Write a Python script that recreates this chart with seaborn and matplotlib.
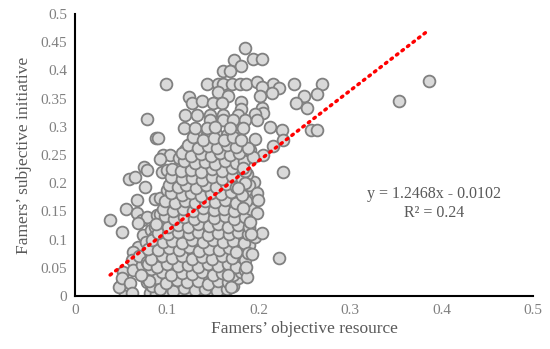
"""Farmers' objective resource vs subjective initiative scatter with linear trend."""
import matplotlib
matplotlib.use("Agg")
import matplotlib.pyplot as plt
import numpy as np
import pandas as pd
import seaborn as sns

# sparse points at the top of the cloud
top_pts = [
    (0.099, 0.376), (0.185, 0.440), (0.194, 0.420), (0.204, 0.420), (0.173, 0.418),
    (0.181, 0.408), (0.161, 0.399), (0.169, 0.399), (0.144, 0.376), (0.156, 0.376),
    (0.161, 0.376), (0.171, 0.376), (0.180, 0.376), (0.187, 0.376), (0.199, 0.380),
    (0.216, 0.375), (0.222, 0.369), (0.239, 0.376), (0.270, 0.376), (0.204, 0.370),
    (0.215, 0.360), (0.156, 0.362), (0.167, 0.355), (0.250, 0.355), (0.264, 0.358),
    (0.124, 0.353), (0.128, 0.342), (0.138, 0.346), (0.150, 0.342), (0.160, 0.342),
    (0.181, 0.344), (0.181, 0.332), (0.204, 0.333), (0.205, 0.324), (0.241, 0.342),
    (0.253, 0.333), (0.202, 0.355), (0.120, 0.321), (0.133, 0.321), (0.147, 0.321),
    (0.161, 0.321), (0.178, 0.321), (0.196, 0.322), (0.078, 0.314), (0.147, 0.312),
    (0.161, 0.312), (0.172, 0.312), (0.185, 0.312), (0.198, 0.312), (0.119, 0.298),
    (0.131, 0.298), (0.144, 0.298), (0.153, 0.300), (0.169, 0.298), (0.183, 0.298),
    (0.213, 0.300), (0.226, 0.294), (0.258, 0.294), (0.264, 0.294),
]

# right-hand edge and outliers
right_pts = [
    (0.386, 0.381), (0.354, 0.346), (0.196, 0.278), (0.227, 0.277), (0.216, 0.265),
    (0.191, 0.259), (0.205, 0.250), (0.194, 0.246), (0.227, 0.220), (0.183, 0.227),
    (0.222, 0.067), (0.204, 0.112), (0.199, 0.183), (0.200, 0.170), (0.198, 0.147),
    (0.192, 0.110), (0.189, 0.076), (0.193, 0.074), (0.185, 0.046), (0.188, 0.034),
    (0.170, 0.016), (0.183, 0.156), (0.191, 0.131), (0.185, 0.200), (0.178, 0.191),
    (0.189, 0.262), (0.181, 0.277), (0.176, 0.078), (0.167, 0.037), (0.187, 0.052),
]

# left-hand edge
left_pts = [
    (0.038, 0.135), (0.051, 0.113), (0.055, 0.155), (0.059, 0.208), (0.065, 0.211),
    (0.067, 0.171), (0.076, 0.194), (0.075, 0.229), (0.078, 0.224), (0.088, 0.280),
    (0.090, 0.280), (0.096, 0.250), (0.103, 0.250), (0.092, 0.243), (0.095, 0.220),
    (0.067, 0.147), (0.073, 0.135), (0.078, 0.140), (0.069, 0.130), (0.074, 0.108),
    (0.069, 0.087), (0.063, 0.078), (0.062, 0.064), (0.052, 0.043), (0.051, 0.023),
    (0.054, 0.005), (0.058, 0.020), (0.063, 0.046), (0.073, 0.055), (0.078, 0.073),
    (0.078, 0.025), (0.082, 0.005), (0.080, 0.090), (0.083, 0.117), (0.048, 0.016),
    (0.051, 0.032), (0.060, 0.023), (0.062, 0.005), (0.087, 0.172), (0.092, 0.174),
    (0.089, 0.144), (0.087, 0.122), (0.100, 0.224), (0.077, 0.095), (0.070, 0.070),
]

# dense core, read row by row (y level -> x positions)
core_rows = {
    0.004: [0.088, 0.100, 0.112, 0.125, 0.136, 0.148, 0.158],
    0.018: [0.084, 0.094, 0.106, 0.117, 0.128, 0.139, 0.150, 0.161, 0.172],
    0.032: [0.078, 0.089, 0.100, 0.111, 0.122, 0.133, 0.144, 0.155, 0.166, 0.178],
    0.047: [0.083, 0.094, 0.106, 0.117, 0.128, 0.139, 0.150, 0.161, 0.172, 0.182],
    0.061: [0.078, 0.089, 0.100, 0.111, 0.122, 0.133, 0.144, 0.155, 0.166, 0.180],
    0.076: [0.085, 0.096, 0.107, 0.118, 0.129, 0.140, 0.151, 0.162, 0.174, 0.184],
    0.090: [0.090, 0.101, 0.112, 0.123, 0.134, 0.145, 0.156, 0.167, 0.178, 0.190],
    0.104: [0.086, 0.096, 0.107, 0.118, 0.129, 0.140, 0.151, 0.162, 0.173, 0.184, 0.196],
    0.118: [0.092, 0.102, 0.113, 0.124, 0.135, 0.146, 0.157, 0.168, 0.179, 0.190],
    0.132: [0.096, 0.107, 0.118, 0.129, 0.140, 0.151, 0.162, 0.173, 0.184],
    0.146: [0.093, 0.102, 0.113, 0.124, 0.135, 0.146, 0.157, 0.168, 0.179, 0.190],
    0.160: [0.098, 0.108, 0.119, 0.130, 0.141, 0.152, 0.163, 0.174, 0.186],
    0.174: [0.103, 0.114, 0.125, 0.136, 0.147, 0.158, 0.169, 0.180, 0.192],
    0.188: [0.100, 0.109, 0.120, 0.131, 0.142, 0.153, 0.164, 0.175, 0.187],
    0.202: [0.106, 0.115, 0.126, 0.137, 0.148, 0.159, 0.170, 0.181, 0.195],
    0.216: [0.110, 0.121, 0.132, 0.143, 0.154, 0.165, 0.176, 0.188],
    0.230: [0.114, 0.126, 0.137, 0.148, 0.159, 0.170, 0.181],
    0.244: [0.113, 0.122, 0.133, 0.144, 0.155, 0.166, 0.177, 0.186],
    0.258: [0.120, 0.129, 0.140, 0.151, 0.162, 0.173, 0.182],
    0.272: [0.126, 0.136, 0.147, 0.158, 0.169, 0.180],
    0.285: [0.133, 0.144, 0.155, 0.166, 0.176],
}

# points filling the gaps between the core rows
fill_pts = [
    (0.093, 0.012), (0.107, 0.009), (0.119, 0.014), (0.131, 0.010), (0.142, 0.013),
    (0.155, 0.008), (0.166, 0.012), (0.081, 0.027), (0.099, 0.023), (0.111, 0.028),
    (0.122, 0.024), (0.134, 0.026), (0.145, 0.022), (0.156, 0.027), (0.167, 0.025),
    (0.072, 0.038), (0.095, 0.042), (0.105, 0.037), (0.117, 0.041), (0.128, 0.039),
    (0.138, 0.043), (0.150, 0.038), (0.160, 0.041), (0.172, 0.037), (0.181, 0.042),
    (0.079, 0.056), (0.089, 0.052), (0.100, 0.057), (0.112, 0.053), (0.123, 0.055),
    (0.134, 0.051), (0.145, 0.056), (0.156, 0.053), (0.167, 0.057), (0.176, 0.052),
    (0.083, 0.066), (0.095, 0.070), (0.106, 0.067), (0.116, 0.071), (0.127, 0.066),
    (0.138, 0.069), (0.149, 0.065), (0.160, 0.070), (0.171, 0.067), (0.185, 0.064),
    (0.079, 0.084), (0.090, 0.081), (0.102, 0.085), (0.113, 0.082), (0.124, 0.086),
    (0.135, 0.080), (0.146, 0.084), (0.157, 0.082), (0.168, 0.085), (0.181, 0.083),
    (0.084, 0.099), (0.096, 0.095), (0.106, 0.098), (0.117, 0.094), (0.128, 0.099),
    (0.139, 0.096), (0.150, 0.100), (0.161, 0.095), (0.172, 0.098), (0.184, 0.094),
    (0.090, 0.112), (0.101, 0.109), (0.112, 0.113), (0.124, 0.110), (0.134, 0.114),
    (0.145, 0.108), (0.156, 0.112), (0.168, 0.109), (0.178, 0.113), (0.189, 0.110),
    (0.088, 0.127), (0.101, 0.123), (0.112, 0.126), (0.123, 0.122), (0.134, 0.127),
    (0.146, 0.124), (0.156, 0.128), (0.167, 0.123), (0.178, 0.126), (0.190, 0.122),
    (0.098, 0.141), (0.108, 0.137), (0.119, 0.140), (0.130, 0.136), (0.140, 0.141),
    (0.151, 0.138), (0.163, 0.142), (0.173, 0.137), (0.185, 0.140), (0.096, 0.155),
    (0.107, 0.151), (0.118, 0.154), (0.129, 0.150), (0.140, 0.156), (0.151, 0.152),
    (0.162, 0.155), (0.173, 0.151), (0.192, 0.154), (0.098, 0.168), (0.109, 0.165),
    (0.120, 0.169), (0.131, 0.164), (0.142, 0.168), (0.153, 0.166), (0.164, 0.170),
    (0.175, 0.165), (0.186, 0.168), (0.105, 0.183), (0.116, 0.179), (0.126, 0.182),
    (0.137, 0.178), (0.148, 0.183), (0.159, 0.180), (0.170, 0.184), (0.182, 0.179),
    (0.102, 0.197), (0.112, 0.193), (0.121, 0.196), (0.132, 0.192), (0.143, 0.197),
    (0.154, 0.194), (0.165, 0.198), (0.176, 0.193), (0.190, 0.196), (0.104, 0.211),
    (0.116, 0.207), (0.127, 0.210), (0.138, 0.206), (0.149, 0.211), (0.160, 0.208),
    (0.171, 0.212), (0.182, 0.207), (0.106, 0.225), (0.115, 0.221), (0.126, 0.224),
    (0.137, 0.220), (0.149, 0.225), (0.160, 0.222), (0.171, 0.226), (0.185, 0.221),
    (0.119, 0.239), (0.131, 0.235), (0.142, 0.238), (0.153, 0.234), (0.164, 0.239),
    (0.175, 0.236), (0.184, 0.240), (0.116, 0.253), (0.126, 0.249), (0.137, 0.252),
    (0.148, 0.248), (0.158, 0.253), (0.169, 0.250), (0.179, 0.254), (0.123, 0.267),
    (0.134, 0.263), (0.145, 0.266), (0.155, 0.262), (0.166, 0.267), (0.176, 0.264),
    (0.129, 0.281), (0.140, 0.277), (0.151, 0.280), (0.162, 0.276), (0.172, 0.281),
]

# trend line as printed on the chart
slope, intercept = 1.2468, -0.0102
eq_text = "y = 1.2468x - 0.0102"
r2_text = "R² = 0.24"

x_ticks = [0, 0.1, 0.2, 0.3, 0.4, 0.5]
x_labels = ["0", "0.1", "0.2", "0.3", "0.4", "0.5"]
y_ticks = [0, 0.05, 0.1, 0.15, 0.2, 0.25, 0.3, 0.35, 0.4, 0.45, 0.5]
y_labels = ["0", "0.05", "0.1", "0.15", "0.2", "0.25", "0.3", "0.35", "0.4", "0.45", "0.5"]

core_pts = [(x, y) for y, xs in core_rows.items() for x in xs]
pts = left_pts + core_pts + fill_pts + top_pts + right_pts
df = pd.DataFrame(pts, columns=["resource", "initiative"])

sns.set_style("white")
plt.rcParams["font.family"] = ["Liberation Serif", "DejaVu Serif"]

fig = plt.figure(figsize=(5.5, 3.49), dpi=100)
ax = fig.add_axes([0.137, 0.152, 0.832, 0.808])

sns.scatterplot(
    data=df, x="resource", y="initiative", ax=ax,
    s=72, color="#d9d9d9", edgecolor="#808080", linewidth=1.3, zorder=2,
)

xs = np.array([df["resource"].min(), df["resource"].max()])
ax.plot(xs, slope * xs + intercept, color="#ff0000", lw=2.5,
        linestyle=(0, (0.5, 1.5)), dash_capstyle="round", zorder=3)

ax.text(0.392, 0.181, eq_text, ha="center", va="center", fontsize=11.5, color="#595959")
ax.text(0.392, 0.147, r2_text, ha="center", va="center", fontsize=11.5, color="#595959")

ax.set_xlim(0, 0.5)
ax.set_ylim(0, 0.5)
ax.set_xticks(x_ticks, x_labels)
ax.set_yticks(y_ticks, y_labels)
ax.tick_params(direction="in", length=4, width=1.3, colors="black",
               labelcolor="#808080", labelsize=11, pad=6)
for side in ["top", "right"]:
    ax.spines[side].set_visible(False)
for side in ["left", "bottom"]:
    ax.spines[side].set_color("black")
    ax.spines[side].set_linewidth(1.5)

ax.set_xlabel("Famers’ objective resource", fontsize=12.5, color="#595959", labelpad=3)
ax.set_ylabel("Famers’ subjective initiative", fontsize=12.5, color="#595959", labelpad=6)

fig.savefig("out.png", dpi=100)
